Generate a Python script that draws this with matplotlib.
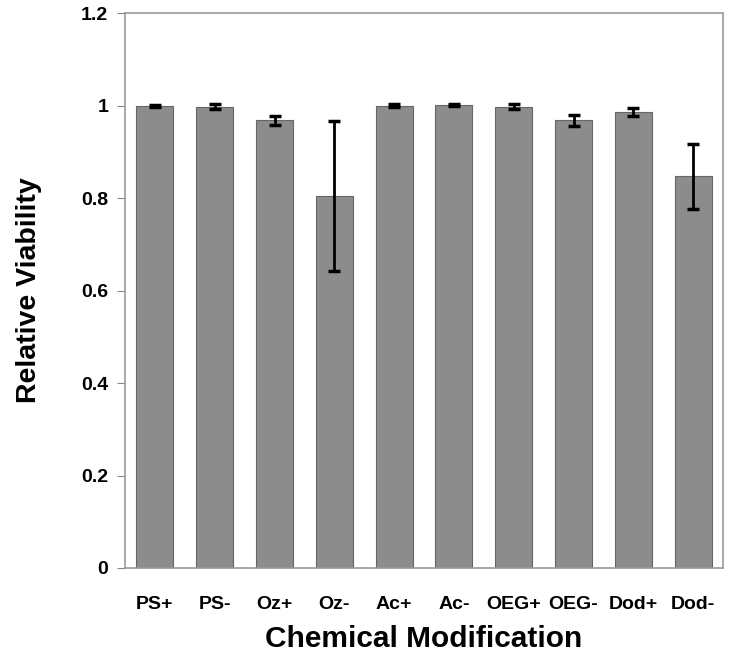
import numpy as np
import matplotlib.pyplot as plt
import matplotlib
matplotlib.rcParams['font.family'] = 'Liberation Sans'
matplotlib.rcParams['font.weight'] = 'bold'

categories = ["PS+", "PS-", "Oz+", "Oz-", "Ac+", "Ac-", "OEG+", "OEG-", "Dod+", "Dod-"]
viability = [1.000, 0.998, 0.968, 0.805, 1.000, 1.002, 0.998, 0.968, 0.986, 0.847]
errors = [0.002, 0.005, 0.010, 0.162, 0.003, 0.002, 0.005, 0.011, 0.008, 0.070]

fig = plt.figure(figsize=(7.33, 6.62), dpi=100)
ax = fig.add_axes([0.1705, 0.142, 0.816, 0.838])
x = np.arange(len(categories))
ax.bar(x, viability, width=0.62, color="#8c8c8c", edgecolor="#666666", lw=0.8,
       yerr=errors, capsize=4, error_kw=dict(ecolor="k", elinewidth=2, capthick=2.5))
ax.set_xlim(-0.5, 9.5)
ax.set_ylim(0, 1.2)
ax.set_yticks([0, 0.2, 0.4, 0.6, 0.8, 1.0, 1.2])
ax.set_yticklabels(["0", "0.2", "0.4", "0.6", "0.8", "1", "1.2"])
ax.set_xticks(x)
ax.set_xticklabels(categories)
ax.tick_params(axis='x', length=0, pad=20, labelsize=14)
ax.tick_params(axis='y', length=6, color="#888888", pad=6, labelsize=14)
for s in ax.spines.values():
    s.set_color("#999999")
    s.set_linewidth(1.2)
ax.set_xlabel("Chemical Modification", fontsize=21.5, fontweight='bold', labelpad=9)
ax.set_ylabel("Relative Viability", fontsize=20.5, fontweight='bold', labelpad=28)
plt.savefig("out.png", dpi=100)
